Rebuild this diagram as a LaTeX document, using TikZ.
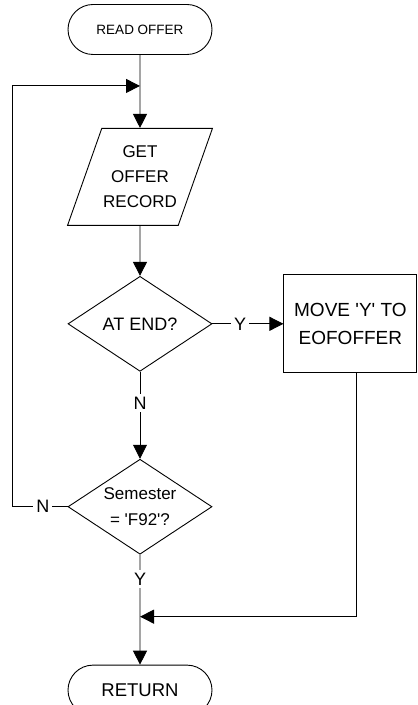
\documentclass[tikz,border=0pt]{standalone}
\usepackage{fontspec}
\setmainfont{Liberation Sans}[Ligatures=TeXOff]
\usetikzlibrary{arrows.meta,positioning,shapes.geometric,shapes.misc}

\begin{document}
\begin{tikzpicture}[x=1pt, y=1pt, >={Triangle[length=14pt,width=14pt]}, line width=0.9pt,
       every node/.style={font=\fontsize{18}{28}\selectfont, align=center},
       terminal/.style={rounded rectangle, draw, minimum width=144pt, minimum height=50pt,
                        inner sep=0pt},
       io/.style={trapezium, trapezium left angle=62, trapezium right angle=118,
                  trapezium stretches=true, draw, minimum width=145pt, minimum height=97pt,
                  inner sep=0pt, font=\fontsize{17}{25}\selectfont},
       decision/.style={diamond, draw, shape aspect=1.5, minimum width=144pt, minimum height=95pt,
                        inner sep=0pt},
       process/.style={rectangle, draw, minimum width=133pt, minimum height=98pt, inner sep=0pt,
                       font=\fontsize{19}{28}\selectfont},
       lbl/.style={fill=white, inner sep=3pt}]
	\useasboundingbox (0,0) rectangle (418,705);
	%% Steps
	\node [terminal, font=\fontsize{13.5}{16}\selectfont] (start) at (140,675.5) {READ OFFER};
	\node [io, below=73pt of start] (getrec) {GET\\OFFER\\RECORD};
	\node [decision, below=50pt of getrec] (atend) {AT END?};
	\node [process, right=71pt of atend] (movey) {MOVE 'Y' TO\\EOFOFFER};
	\node [decision, below=87pt of atend, font=\fontsize{17}{26}\selectfont] (semchk) {Semester\\= 'F92'?};
	\node [terminal, below=110pt of semchk, font=\fontsize{18.5}{22}\selectfont] (ret) {RETURN};
	%% Reference points for the joins
	\coordinate [above=42pt of getrec.north] (join);
	\coordinate [left=55pt of semchk.west] (loopx);
	\coordinate [below=62pt of semchk.south] (join2);

	%% Simple paths
	\draw[->] (start) -- (getrec);
	\draw[->] (getrec) -- (atend);
	\draw[->] (atend) -- node[lbl,pos=.39] {Y} (movey);
	\draw[->] (atend) -- node[lbl,pos=.36] {N} (semchk);
	\draw[->] (semchk) -- node[lbl,pos=.22] {Y} (ret);
	%% Loops back
	\draw[->] (semchk.west) -- node[lbl,pos=.45] {N} (loopx) |- (join);
	\draw[->] ([xshift=6.5pt]movey.south) |- (join2);
\end{tikzpicture}
\end{document}
